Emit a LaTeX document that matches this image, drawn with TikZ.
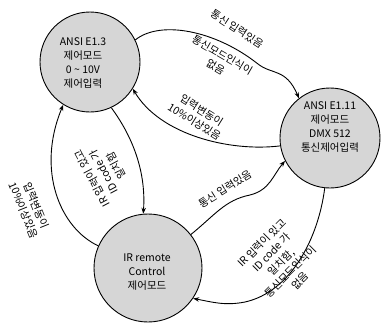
\documentclass[tikz,border=0pt]{standalone}
\usepackage{fontspec}
\setmainfont{Noto Sans CJK KR}
\usetikzlibrary{arrows.meta}
\begin{document}
\begin{tikzpicture}[x=1pt,y=1pt,
  state/.style={circle,draw,line width=0.9pt,fill=black!16,inner sep=0pt},
  stxt/.style={align=center,font=\fontsize{10.5}{14}\selectfont,inner sep=0pt},
  lbl/.style={align=center,font=\fontsize{10.5}{13.5}\selectfont,inner sep=0pt},
  conn/.style={line width=0.9pt,-{Stealth[length=6pt,width=4.5pt]}}]
\useasboundingbox (0,0) rectangle (384,-327);
% states
\node[state,minimum size=100pt] (A) at (90,-62) {};
\node[state,minimum size=100pt] (B) at (330,-138) {};
\node[state,minimum size=108pt] (C) at (148,-268) {};
\node[stxt] (At) at (83,-63) {ANSI E1.3\\제어모드\\0 \textasciitilde{} 10V\\제어입력};
\node[stxt] (Bt) at (330,-127) {ANSI E1.11\\제어모드\\DMX 512\\통신제어입력};
\node[stxt] (Ct) at (147,-272) {IR remote\\Control\\제어모드};
% connectors
\draw[conn] (A.26) .. controls (160,-20) and (215,-30) .. (258,-64)
  .. controls (272,-75) and (286,-68) .. (B.128);
\draw[conn] (B.189) .. controls (230,-152) and (160,-135) .. (A.-32);
\draw[conn] (C.156) .. controls (60,-228) and (36,-170) .. (A.238);
\draw[conn] (A.295) .. controls (135,-140) and (146,-175) .. (C.95);
\draw[conn] (C.38) .. controls (215,-215) and (225,-200) .. (250,-195)
  .. controls (270,-190) and (273,-175) .. (B.207);
\draw[conn] (B.264) .. controls (318,-240) and (290,-292) .. (245,-302)
  .. controls (225,-306) and (212,-302) .. (C.-34);
% labels
\node[lbl,rotate=327] (l1) at (237,-29) {통신 입력있음};
\node[lbl,rotate=330] (l2) at (219,-61) {통신모드인식이\\없음};
\node[lbl,rotate=328] (l3) at (198,-116) {입력변동이\\10\%이상있음};
\node[lbl,rotate=292] (l4) at (30,-208) {입력변동이\\10\%이상있음};
\node[lbl,rotate=118] (l5) at (104,-172) {IR 입력이 있고\\ID code 가\\일치함};
\node[lbl,rotate=32] (l6) at (225,-189) {통신 입력있음};
\node[lbl,rotate=45] (l7) at (281,-262) {IR 입력이 있고\\ID code 가\\일치함,\\통신모드인식이\\없음};
\end{tikzpicture}
\end{document}
